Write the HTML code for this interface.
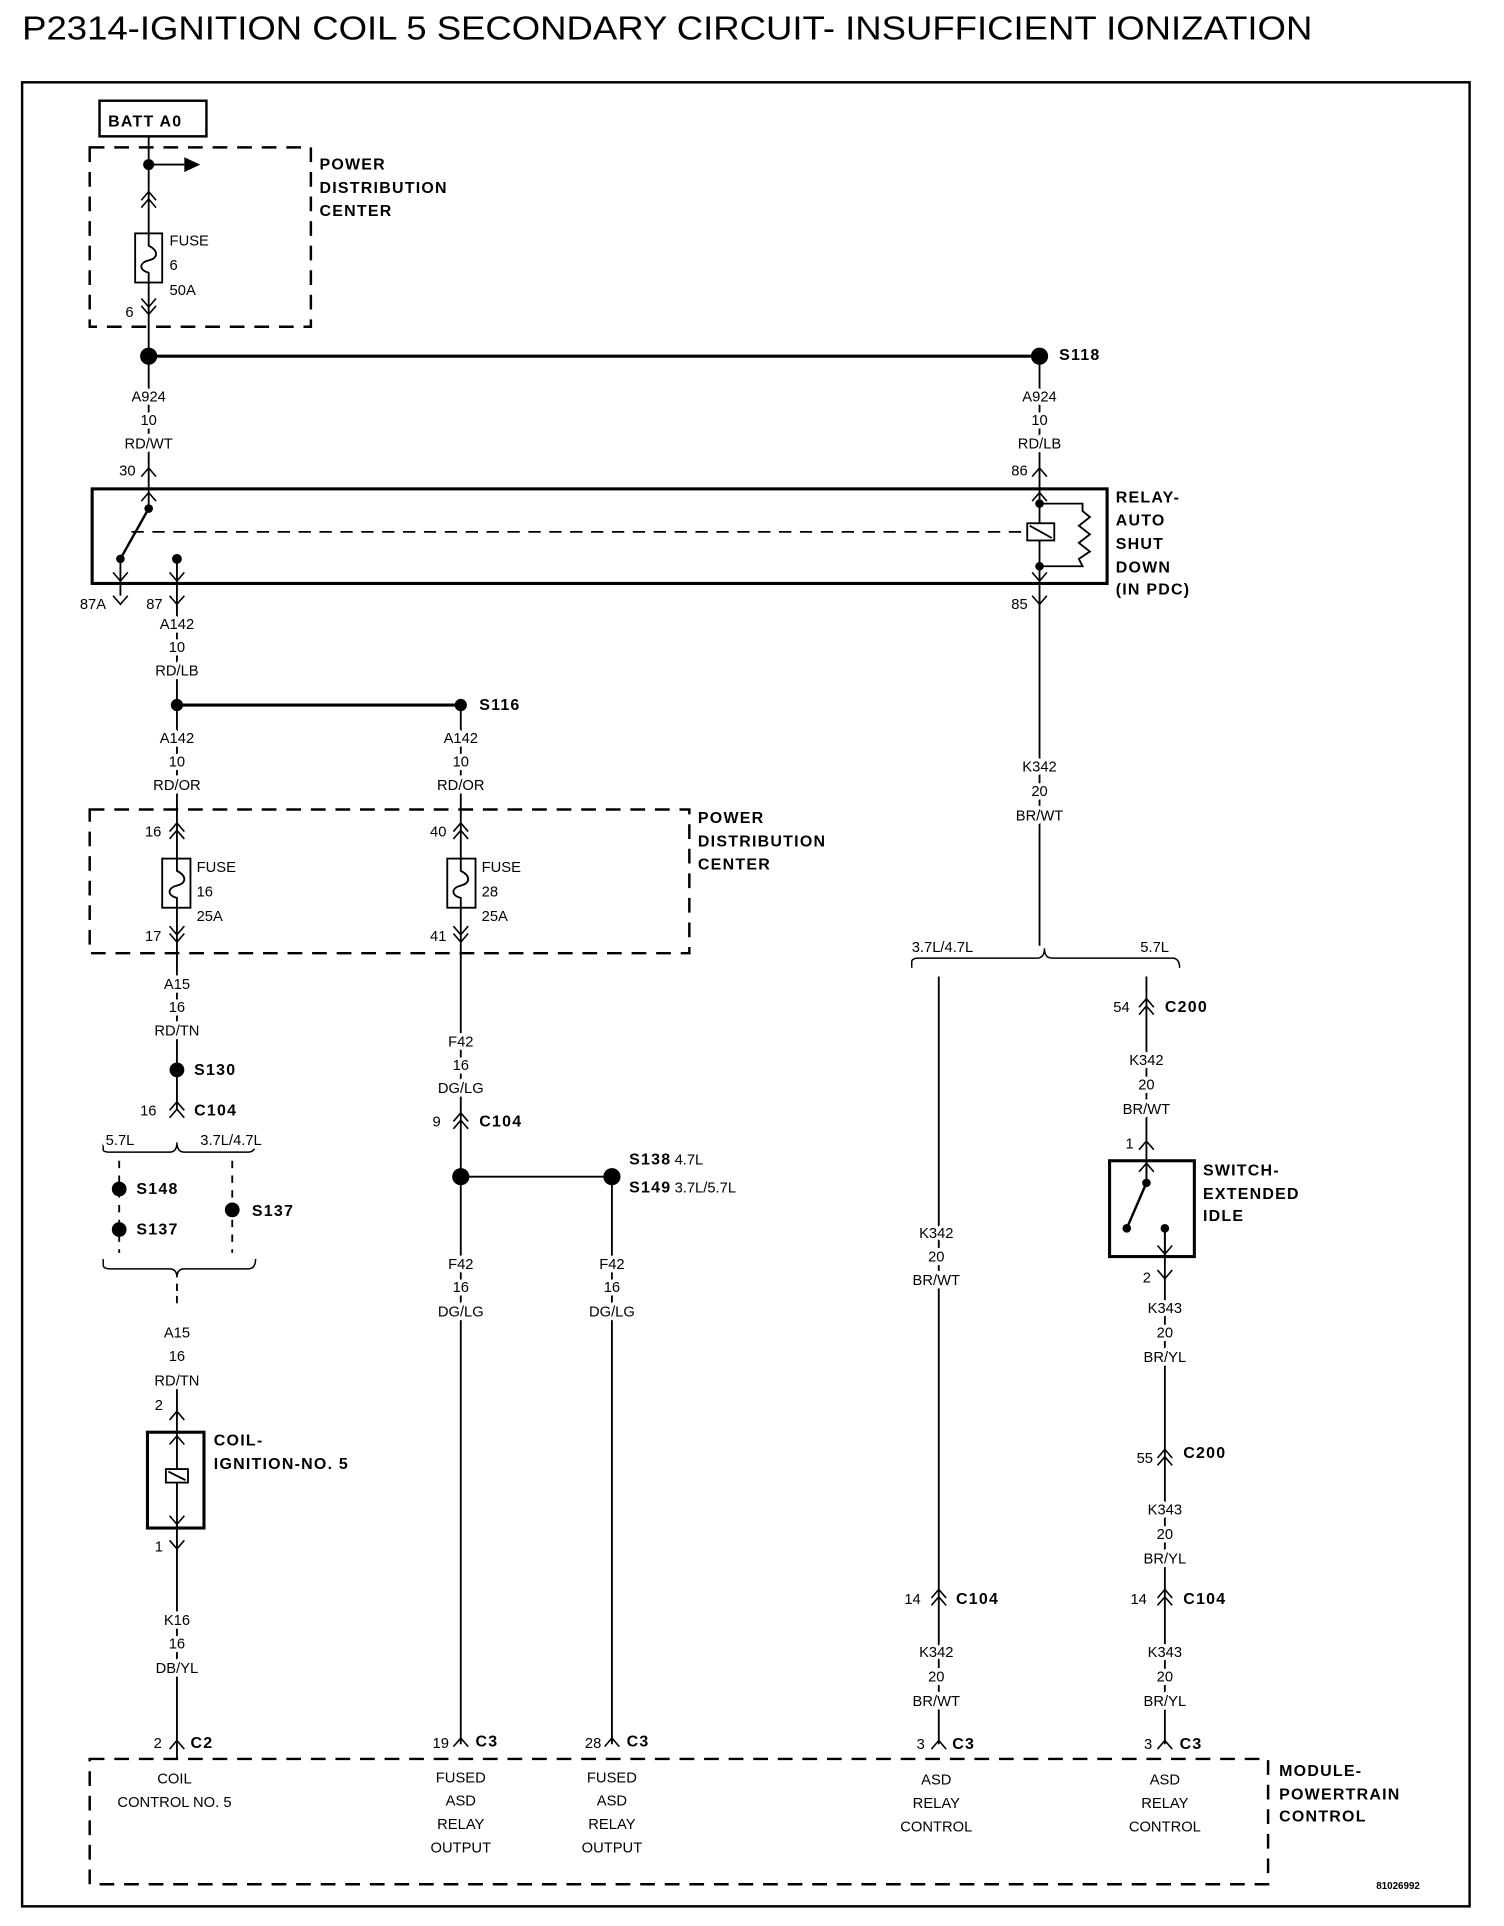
<!DOCTYPE html>
<html><head><meta charset="utf-8"><style>
html,body{margin:0;padding:0;background:#fff}
svg{display:block}
text{font-family:"Liberation Sans",sans-serif;fill:#000}
.s{font-size:12px}
.s text,.b text{stroke:#fff;stroke-width:6px;paint-order:stroke;stroke-linejoin:round}
.b{font-size:13px;font-weight:bold;letter-spacing:1px}
.m{text-anchor:middle}
</style></head><body>
<svg width="1504" height="1926" viewBox="0 0 1224 1568" preserveAspectRatio="none" xmlns="http://www.w3.org/2000/svg">
<defs>
<path id="cu" d="M-6,4 L0,-3 L6,4" fill="none" stroke="#000" stroke-width="1.3"/>
<path id="cd" d="M-6,-4 L0,3 L6,-4" fill="none" stroke="#000" stroke-width="1.3"/>
<g id="du"><use href="#cu" y="-3"/><use href="#cu" y="3"/></g>
<g id="dd"><use href="#cd" y="-3"/><use href="#cd" y="3"/></g>
<path id="fz" d="M0,-20 L0,-10 C8,-6 8,0 0,2 C-8,4 -8,10 0,12 L0,20" fill="none" stroke="#000" stroke-width="1.5"/>
</defs>
<text x="18" y="32" font-size="27" textLength="1050" lengthAdjust="spacingAndGlyphs">P2314-IGNITION COIL 5 SECONDARY CIRCUIT- INSUFFICIENT IONIZATION</text>
<rect x="18" y="67" width="1178" height="1485" fill="none" stroke="#000" stroke-width="2"/>

<g stroke="#000" fill="none" stroke-width="1.5">
<line x1="121" y1="111" x2="121" y2="290"/>
<line x1="121" y1="134" x2="150" y2="134"/>
<line x1="121" y1="290" x2="846" y2="290" stroke-width="2.5"/>
<line x1="121" y1="290" x2="121" y2="414"/>
<line x1="846" y1="290" x2="846" y2="770"/>
<line x1="121" y1="414" x2="98" y2="455" stroke-width="2"/>
<line x1="98" y1="455" x2="98" y2="485"/>
<line x1="144" y1="455" x2="144" y2="903"/>
<line x1="144" y1="574" x2="375" y2="574" stroke-width="2.5"/>
<line x1="375" y1="574" x2="375" y2="1420"/>
<line x1="375" y1="958" x2="498" y2="958"/>
<line x1="498" y1="958" x2="498" y2="1420"/>
<line x1="144" y1="1045" x2="144" y2="1065" stroke-dasharray="6,4"/>
<line x1="144" y1="1130" x2="144" y2="1432"/>
<line x1="764" y1="795" x2="764" y2="1420"/>
<line x1="933" y1="795" x2="933" y2="963"/>
<line x1="948" y1="1000" x2="948" y2="1420"/>
<rect x="75" y="398" width="826" height="77" stroke-width="2.5"/>
<line x1="107" y1="433" x2="835" y2="433" stroke-dasharray="10,7"/>
<rect x="836" y="426" width="22" height="14" fill="#fff"/>
<line x1="838" y1="428" x2="856" y2="438"/>
<path d="M846,410 L881,410 L881,416 L887,421 L878,428 L887,435 L878,442 L887,449 L878,455 L881,461 L846,461"/>
<rect x="81" y="82" width="87" height="29" stroke-width="2"/>
<rect x="73" y="120" width="180" height="146" stroke-dasharray="12,8" stroke-width="2"/>
<rect x="73" y="659" width="488" height="117" stroke-dasharray="12,8" stroke-width="2"/>
<rect x="73" y="1432" width="959" height="102" stroke-dasharray="12,8" stroke-width="2"/>
<rect x="110" y="190" width="22" height="40" fill="#fff"/>
<rect x="132" y="699" width="23" height="40" fill="#fff"/>
<rect x="364" y="699" width="23" height="40" fill="#fff"/>
<path d="M84,930 L84,936 Q84,938 90,938 L138,938 Q144,938 144,930 Q144,938 150,938 L202,938 Q208,938 208,930" stroke-width="1.2"/>
<line x1="97" y1="945" x2="97" y2="1020" stroke-dasharray="6,6"/>
<line x1="189" y1="945" x2="189" y2="1020" stroke-dasharray="6,6"/>
<path d="M84,1025 L84,1030 Q84,1033 90,1033 L138,1033 Q144,1033 144,1040 Q144,1033 150,1033 L202,1033 Q208,1033 208,1025" stroke-width="1.2"/>
<path d="M742,788 L742,783 Q742,780 748,780 L844,780 Q850,780 850,772 Q850,780 856,780 L954,780 Q960,780 960,788" stroke-width="1.2"/>
<rect x="120" y="1166" width="46" height="78" stroke-width="2.5" fill="#fff"/>
<line x1="144" y1="1166" x2="144" y2="1244"/>
<rect x="135" y="1196" width="18" height="11" fill="#fff"/>
<line x1="137" y1="1198" x2="151" y2="1205"/>
<rect x="903" y="945" width="69" height="78" stroke-width="2.5"/>
<line x1="933" y1="945" x2="933" y2="963"/>
<line x1="933" y1="963" x2="917" y2="1000" stroke-width="2"/>
<line x1="948" y1="1000" x2="948" y2="1023"/>
</g>
<use href="#fz" x="121" y="210"/><use href="#fz" x="144" y="719"/><use href="#fz" x="375" y="719"/>
<path d="M150,128 L163,134 L150,140 Z"/>
<g>
<circle cx="121" cy="134" r="4.5"/><circle cx="121" cy="290" r="7"/><circle cx="846" cy="290" r="7"/>
<circle cx="121" cy="414" r="3.5"/><circle cx="98" cy="455" r="3.5"/><circle cx="144" cy="455" r="4"/>
<circle cx="846" cy="410" r="3.5"/><circle cx="846" cy="461" r="3.5"/>
<circle cx="144" cy="574" r="5"/><circle cx="375" cy="574" r="5"/>
<circle cx="144" cy="871" r="6"/>
<circle cx="97" cy="968" r="6"/><circle cx="97" cy="1001" r="6"/><circle cx="189" cy="985" r="6"/>
<circle cx="375" cy="958" r="7"/><circle cx="498" cy="958" r="7"/>
<circle cx="933" cy="963" r="3.5"/><circle cx="917" cy="1000" r="3.5"/><circle cx="948" cy="1000" r="3.5"/>
</g>
<use href="#du" x="121" y="162"/><use href="#dd" x="121" y="250"/>
<use href="#cu" x="121" y="384"/><use href="#cu" x="846" y="384"/>
<use href="#cu" x="121" y="404"/><use href="#cu" x="846" y="404"/>
<use href="#cd" x="98" y="470"/><use href="#cd" x="144" y="470"/><use href="#cd" x="846" y="470"/>
<use href="#cd" x="98" y="489"/><use href="#cd" x="144" y="489"/><use href="#cd" x="846" y="489"/>
<use href="#du" x="144" y="676"/><use href="#dd" x="144" y="761"/>
<use href="#du" x="375" y="676"/><use href="#dd" x="375" y="761"/>
<use href="#du" x="144" y="903"/><use href="#du" x="375" y="912"/>
<use href="#cu" x="144" y="1172"/><use href="#cd" x="144" y="1238"/>
<use href="#cd" x="144" y="1258"/><use href="#cu" x="144" y="1152"/>
<use href="#cu" x="144" y="1420"/><use href="#cu" x="375" y="1418"/><use href="#cu" x="498" y="1418"/>
<use href="#cu" x="764" y="1420"/><use href="#cu" x="948" y="1420"/>
<use href="#du" x="933" y="819"/><use href="#du" x="948" y="1186"/>
<use href="#du" x="764" y="1300"/><use href="#du" x="948" y="1300"/>
<use href="#cu" x="933" y="932"/><use href="#cu" x="933" y="950"/>
<use href="#cd" x="948" y="1038"/><use href="#cd" x="948" y="1018"/>

<g class="b">
<text x="88" y="103">BATT A0</text>
<text x="260" y="138">POWER</text><text x="260" y="157">DISTRIBUTION</text><text x="260" y="176">CENTER</text>
<text x="862" y="293">S118</text>
<text x="908" y="409">RELAY-</text><text x="908" y="428">AUTO</text><text x="908" y="447">SHUT</text><text x="908" y="466">DOWN</text><text x="908" y="484">(IN PDC)</text>
<text x="390" y="578">S116</text>
<text x="568" y="670">POWER</text><text x="568" y="689">DISTRIBUTION</text><text x="568" y="708">CENTER</text>
<text x="158" y="875">S130</text><text x="158" y="908">C104</text>
<text x="111" y="972">S148</text><text x="111" y="1005">S137</text><text x="205" y="990">S137</text>
<text x="390" y="917">C104</text>
<text x="512" y="948">S138</text><text x="512" y="971">S149</text>
<text x="174" y="1177">COIL-</text><text x="174" y="1196">IGNITION-NO. 5</text>
<text x="155" y="1423">C2</text><text x="387" y="1422">C3</text><text x="510" y="1422">C3</text>
<text x="775" y="1424">C3</text><text x="960" y="1424">C3</text>
<text x="778" y="1306">C104</text><text x="963" y="1306">C104</text>
<text x="948" y="824">C200</text><text x="963" y="1187">C200</text>
<text x="979" y="957">SWITCH-</text><text x="979" y="976">EXTENDED</text><text x="979" y="994">IDLE</text>
<text x="1041" y="1446">MODULE-</text><text x="1041" y="1465">POWERTRAIN</text><text x="1041" y="1483">CONTROL</text>
</g>
<g class="s">
<text x="138" y="200">FUSE</text><text x="138" y="220">6</text><text x="138" y="240">50A</text>
<text x="102" y="258">6</text>
<text x="97" y="387">30</text><text x="823" y="387">86</text>
<text x="65" y="496">87A</text><text x="119" y="496">87</text><text x="823" y="496">85</text>
<text x="160" y="710">FUSE</text><text x="160" y="730">16</text><text x="160" y="750">25A</text>
<text x="392" y="710">FUSE</text><text x="392" y="730">28</text><text x="392" y="750">25A</text>
<text x="118" y="681">16</text><text x="118" y="766">17</text><text x="350" y="681">40</text><text x="350" y="766">41</text>
<text x="114" y="908">16</text><text x="352" y="917">9</text>
<text x="86" y="932">5.7L</text><text x="163" y="932">3.7L/4.7L</text>
<text x="549" y="948">4.7L</text><text x="549" y="971">3.7L/5.7L</text>
<text x="126" y="1148">2</text><text x="126" y="1263">1</text>
<text x="125" y="1423">2</text><text x="352" y="1423">19</text><text x="476" y="1423">28</text>
<text x="746" y="1424">3</text><text x="931" y="1424">3</text>
<text x="736" y="1306">14</text><text x="920" y="1306">14</text>
<text x="906" y="824">54</text><text x="925" y="1191">55</text>
<text x="916" y="935">1</text><text x="930" y="1044">2</text>
<text x="742" y="775">3.7L/4.7L</text><text x="928" y="775">5.7L</text>
<text x="1120" y="1538" font-size="8" font-weight="bold">81026992</text>
</g>
<g class="s m">
<text x="121" y="327">A924</text><text x="121" y="346">10</text><text x="121" y="365">RD/WT</text>
<text x="846" y="327">A924</text><text x="846" y="346">10</text><text x="846" y="365">RD/LB</text>
<text x="144" y="512">A142</text><text x="144" y="531">10</text><text x="144" y="550">RD/LB</text>
<text x="144" y="605">A142</text><text x="144" y="624">10</text><text x="144" y="643">RD/OR</text>
<text x="375" y="605">A142</text><text x="375" y="624">10</text><text x="375" y="643">RD/OR</text>
<text x="846" y="628">K342</text><text x="846" y="648">20</text><text x="846" y="668">BR/WT</text>
<text x="144" y="805">A15</text><text x="144" y="824">16</text><text x="144" y="843">RD/TN</text>
<text x="375" y="852">F42</text><text x="375" y="871">16</text><text x="375" y="890">DG/LG</text>
<text x="933" y="867">K342</text><text x="933" y="887">20</text><text x="933" y="907">BR/WT</text>
<text x="762" y="1008">K342</text><text x="762" y="1027">20</text><text x="762" y="1046">BR/WT</text>
<text x="375" y="1033">F42</text><text x="375" y="1052">16</text><text x="375" y="1072">DG/LG</text>
<text x="498" y="1033">F42</text><text x="498" y="1052">16</text><text x="498" y="1072">DG/LG</text>
<text x="948" y="1069">K343</text><text x="948" y="1089">20</text><text x="948" y="1109">BR/YL</text>
<text x="144" y="1089">A15</text><text x="144" y="1108">16</text><text x="144" y="1128">RD/TN</text>
<text x="948" y="1233">K343</text><text x="948" y="1253">20</text><text x="948" y="1273">BR/YL</text>
<text x="144" y="1323">K16</text><text x="144" y="1342">16</text><text x="144" y="1362">DB/YL</text>
<text x="762" y="1349">K342</text><text x="762" y="1369">20</text><text x="762" y="1389">BR/WT</text>
<text x="948" y="1349">K343</text><text x="948" y="1369">20</text><text x="948" y="1389">BR/YL</text>
<text x="142" y="1452">COIL</text><text x="142" y="1471">CONTROL NO. 5</text>
<text x="375" y="1451">FUSED</text><text x="375" y="1470">ASD</text><text x="375" y="1489">RELAY</text><text x="375" y="1508">OUTPUT</text>
<text x="498" y="1451">FUSED</text><text x="498" y="1470">ASD</text><text x="498" y="1489">RELAY</text><text x="498" y="1508">OUTPUT</text>
<text x="762" y="1453">ASD</text><text x="762" y="1472">RELAY</text><text x="762" y="1491">CONTROL</text>
<text x="948" y="1453">ASD</text><text x="948" y="1472">RELAY</text><text x="948" y="1491">CONTROL</text>
</g>
</svg>
</body></html>
